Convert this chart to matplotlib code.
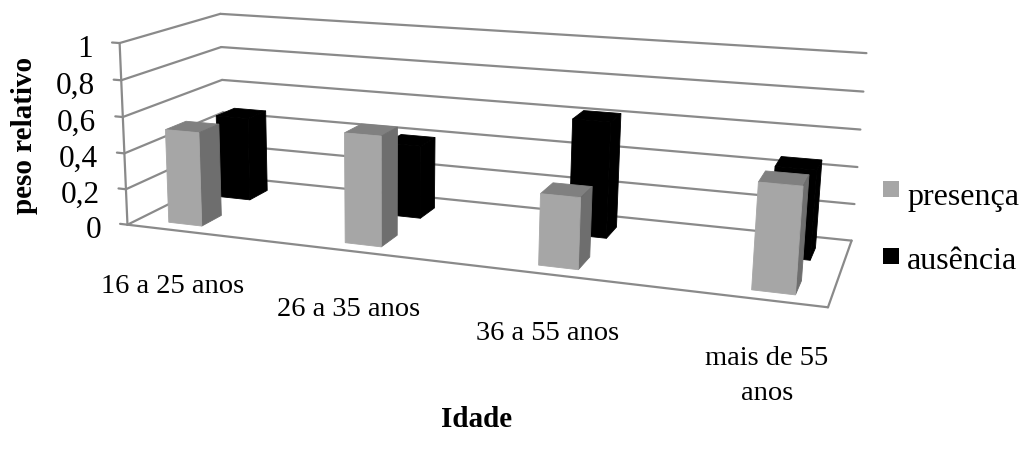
import numpy as np
import matplotlib
matplotlib.use("Agg")
import matplotlib.pyplot as plt
from matplotlib.patches import Polygon, Rectangle

categories = ["16 a 25 anos", "26 a 35 anos", "36 a 55 anos", "mais de 55\nanos"]
presenca = [0.52, 0.59, 0.37, 0.53]
ausencia = [0.48, 0.41, 0.63, 0.47]
yticks = [0, 0.2, 0.4, 0.6, 0.8, 1]
yticklabels = ["0", "0,2", "0,4", "0,6", "0,8", "1"]
series_names = ["presença", "ausência"]

GRID = "#8A8A8A"
plt.rcParams["font.family"] = ["Liberation Serif", "DejaVu Serif"]

# Perspective camera calibrated from the plot box corners: (cat, depth, value) -> pixel
box = [((0,0,0),(130,226)), ((0,0,1),(117,44)), ((0,1,0),(222,177)), ((0,1,1),(223,15)),
       ((4,1,0),(852,242)), ((4,1,1),(866,54)), ((4,0,0),(828,308))]
A, b = [], []
for (x,d,z),(u,v) in box:
    A.append([x,d,z,1,0,0,0,0,-u*x,-u*d,-u*z]); b.append(u)
    A.append([0,0,0,0,x,d,z,1,-v*x,-v*d,-v*z]); b.append(v)
P = np.append(np.linalg.lstsq(np.array(A,float), np.array(b,float), rcond=None)[0], 1).reshape(3,4)

def proj(x, d, z):
    p = P @ np.array([x, d, z, 1.0])
    return (p[0]/p[2], p[1]/p[2])

fig = plt.figure(figsize=(10.21, 4.52), dpi=100)
ax = fig.add_axes([0, 0, 1, 1])
ax.set_xlim(0, 1021); ax.set_ylim(452, 0); ax.axis("off")

def seg(a, b, lw=1.6):
    ax.plot(*zip(a, b), color=GRID, lw=lw, solid_capstyle="round", zorder=1)

for z, lab in zip(yticks, yticklabels):
    seg(proj(0,0,z), proj(0,1,z))
    seg(proj(0,1,z), proj(4,1,z))
    seg(proj(-0.05,0,z), proj(0,0,z))
    tx, ty = proj(-0.05,0,z)
    ax.text(tx-19, ty+6, lab, ha="right", va="center", fontsize=22.5, color="black")
seg(proj(0,0,0), proj(0,0,1))
seg(proj(0,0,0), proj(4,0,0))
seg(proj(4,0,0), proj(4,1,0))

def bar(x0, x1, d0, d1, h, front, side, top):
    faces = [([(x0,d0,h),(x1,d0,h),(x1,d1,h),(x0,d1,h)], top),
             ([(x1,d0,0),(x1,d1,0),(x1,d1,h),(x1,d0,h)], side),
             ([(x0,d0,0),(x1,d0,0),(x1,d0,h),(x0,d0,h)], front)]
    for pts, c in faces:
        ax.add_patch(Polygon([proj(*p) for p in pts], closed=True, fc=c, ec=c, lw=0.6, zorder=3))

W = 0.11
CAT_START, CAT_STEP = 0.31, 1.135
label_xy = [(173,287), (349,310), (548,334), (767,376)]
for i, (p, a) in enumerate(zip(presenca, ausencia)):
    c = CAT_START + CAT_STEP*i
    bar(c-W, c+W, 0.62, 0.82, a, "#000000", "#000000", "#000000")
    bar(c-W, c+W, 0.11, 0.31, p, "#A6A6A6", "#6E6E6E", "#808080")
    ax.text(*label_xy[i], categories[i], ha="center", va="center", fontsize=20.5, linespacing=1.48)

ax.add_patch(Rectangle((883,182), 16, 16, fc="#A6A6A6", ec="none"))
ax.add_patch(Rectangle((883,249), 16, 16, fc="#000000", ec="none"))
ax.text(907, 198, series_names[0], fontsize=23, va="center")
ax.text(907, 262, series_names[1], fontsize=23, va="center")
ax.text(25, 135, "peso relativo", rotation=90, fontsize=21, fontweight="bold", ha="center", va="center")
ax.text(477, 420, "Idade", fontsize=21, fontweight="bold", ha="center", va="center")
fig.savefig("out.png", dpi=100)
